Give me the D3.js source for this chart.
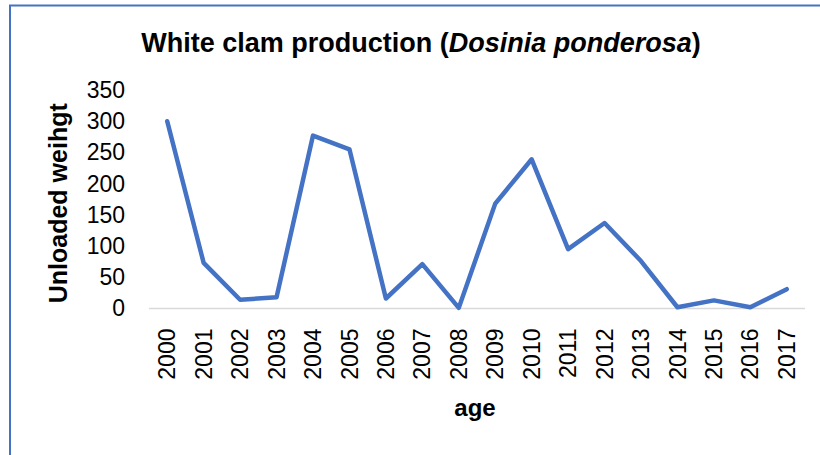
<!DOCTYPE html>
<html>
<head>
<meta charset="utf-8">
<script src="https://cdn.jsdelivr.net/npm/d3@7"></script>
<style>
  body { margin: 0; background: #fff; }
  text { font-family: 'Liberation Sans', Arial, sans-serif; fill: #000; }
</style>
</head>
<body>
<div id="chart"></div>
<script>
// data
var years = ['2000', '2001', '2002', '2003', '2004', '2005', '2006', '2007', '2008',
    '2009', '2010', '2011', '2012', '2013', '2014', '2015', '2016', '2017'];
var weights = [300, 73, 14, 18, 277, 255, 16, 71, 1, 168, 239, 95, 137, 76, 2, 13, 2, 31];
var yTicks = [0, 50, 100, 150, 200, 250, 300, 350];

// svg container
var width = 820;
var height = 455;

// plot area
var plot = { left: 149, right: 805, top: 90, bottom: 308.5 };

var svg = d3.select('#chart').append('svg')
    .attr('width', width)
    .attr('height', height);

// outer frame
svg.append('rect')
    .attr('x', 10)
    .attr('y', 5.5)
    .attr('width', 840)
    .attr('height', 480)
    .attr('fill', 'none')
    .attr('stroke', '#4472C4')
    .attr('stroke-width', 2);

// scales
var xScale = d3.scaleBand()
    .domain(years)
    .range([plot.left, plot.right])
    .padding(0);

var yScale = d3.scaleLinear()
    .domain([0, 350])
    .range([plot.bottom, plot.top]);

// title
var title = svg.append('text')
    .attr('x', 421)
    .attr('y', 52)
    .style('text-anchor', 'middle')
    .style('font-size', '27px')
    .style('font-weight', 'bold');
title.append('tspan').text('White clam production (');
title.append('tspan').style('font-style', 'italic').text('Dosinia ponderosa');
title.append('tspan').text(')');

// y axis (labels only)
var yAxis = d3.axisLeft(yScale)
    .tickValues(yTicks)
    .tickSize(0)
    .tickPadding(24);

var yG = svg.append('g')
    .attr('transform', `translate(${plot.left}, 0)`)
    .call(yAxis);
yG.select('.domain').remove();
yG.selectAll('text')
    .style('font-size', '23px')
    .style('font-family', "'Liberation Sans', Arial, sans-serif")
    .attr('fill', '#000');

// zero line
svg.append('line')
    .attr('x1', plot.left)
    .attr('x2', plot.right)
    .attr('y1', yScale(0))
    .attr('y2', yScale(0))
    .attr('stroke', '#d9d9d9')
    .attr('stroke-width', 1.5);

// x axis (rotated labels)
var xAxis = d3.axisBottom(xScale).tickSize(0);
var xG = svg.append('g')
    .attr('transform', `translate(0, ${plot.bottom})`)
    .call(xAxis);
xG.select('.domain').remove();
xG.selectAll('text')
    .attr('transform', 'rotate(-90)')
    .attr('x', -20)
    .attr('y', 0)
    .attr('dy', '0.35em')
    .style('text-anchor', 'end')
    .style('font-size', '23px')
    .style('font-family', "'Liberation Sans', Arial, sans-serif")
    .attr('fill', '#000');

// axis titles
svg.append('text')
    .attr('transform', `translate(67, ${(plot.top + plot.bottom) / 2 + 4}) rotate(-90)`)
    .style('text-anchor', 'middle')
    .style('font-size', '25px')
    .style('font-weight', 'bold')
    .text('Unloaded weihgt');

svg.append('text')
    .attr('x', (plot.left + plot.right) / 2 - 2)
    .attr('y', 416)
    .style('text-anchor', 'middle')
    .style('font-size', '24px')
    .style('font-weight', 'bold')
    .text('age');

// the line
var line = d3.line()
    .x((d, i) => xScale(years[i]) + xScale.bandwidth() / 2)
    .y(d => yScale(d));

svg.append('path')
    .datum(weights)
    .attr('d', line)
    .attr('fill', 'none')
    .attr('stroke', '#4472C4')
    .attr('stroke-width', 4.5)
    .attr('stroke-linejoin', 'round')
    .attr('stroke-linecap', 'round');
</script>
</body>
</html>
